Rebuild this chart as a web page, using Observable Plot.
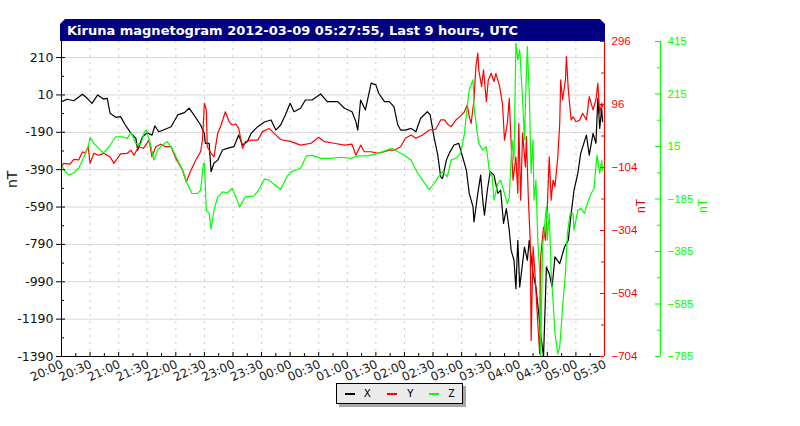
<!DOCTYPE html>
<html>
<head>
<meta charset="utf-8">
<script src="https://cdn.jsdelivr.net/npm/d3@7"></script>
<script src="https://cdn.jsdelivr.net/npm/@observablehq/plot@0.6"></script>
<style>
  html, body { margin: 0; padding: 0; background: #fff; }
  #wrap { position: relative; width: 800px; height: 426px; overflow: hidden; }
  #title {
    position: absolute; left: 60px; top: 19px; width: 545px; height: 22px;
    background: #000080; color: #fff; font: bold 13px "DejaVu Sans", sans-serif;
    line-height: 23px; padding-left: 7px; box-sizing: border-box; white-space: nowrap;
    clip-path: polygon(5px 0, calc(100% - 5px) 0, 100% 5px, 100% 100%, 0 100%, 0 5px);
  }
  #legend {
    position: absolute; left: 336px; top: 383px; width: 127px; height: 21px;
    background: #ebebeb; border: 1px solid #000; box-sizing: border-box;
    box-shadow: 3px 3px 0 #a8a8a8; font: 11px "DejaVu Sans Mono", monospace; color: #000;
  }
  #legend .sw { position: absolute; top: 9px; width: 10px; height: 2px; }
  #legend .lb { position: absolute; top: 3px; line-height: 13px; }
</style>
</head>
<body>
<div id="wrap">
  <div id="chart"></div>
  <div id="title"></div>
  <div id="legend"></div>
</div>
<script>
// ---- Data (minutes after 2012-03-08 20:00 UTC, value in nT) ----
const chartTitle = "Kiruna magnetogram 2012-03-09 05:27:55, Last 9 hours, UTC";
const seriesNames = ["X", "Y", "Z"];
const seriesColors = ["#000000", "#ff0000", "#00ff00"];

const xComponent = [[0,-26],[6,-13],[13,-21],[22,14],[27,-8],[32,-35],[38,10],[44,-12],[48,-8],[51,-88],[57,-110],[62,-106],[67,-151],[73,-196],[78,-221],[80,-285],[85,-214],[90,-192],[95,-205],[98,-156],[102,-187],[107,-178],[115,-160],[122,-97],[129,-85],[134,-61],[139,-97],[146,-151],[150,-196],[151,-249],[155,-249],[157,-401],[160,-356],[164,-339],[169,-285],[174,-276],[181,-267],[186,-205],[190,-258],[195,-240],[199,-196],[206,-160],[213,-135],[220,-124],[225,-178],[230,-151],[235,-97],[240,-35],[244,-80],[251,-61],[256,-17],[263,-17],[272,15],[279,-26],[290,-26],[297,-61],[305,-80],[309,-133],[311,-178],[314,-17],[319,-71],[325,73],[330,64],[333,19],[339,-26],[344,-26],[349,-53],[353,-151],[356,-178],[361,-178],[367,-169],[372,-187],[377,-115],[384,-80],[387,-97],[391,-214],[395,-312],[398,-428],[400,-437],[404,-339],[407,-303],[412,-258],[417,-249],[421,-321],[425,-392],[428,-517],[432,-589],[433,-670],[437,-517],[440,-419],[442,-544],[444,-634],[447,-500],[450,-401],[454,-419],[458,-517],[461,-500],[464,-678],[467,-598],[470,-714],[472,-822],[475,-875],[477,-1027],[479,-768],[481,-1018],[486,-804],[489,-875],[491,-768],[495,-947],[498,-1018],[501,-1161],[503,-1268],[506,-1390],[509,-911],[512,-947],[515,-1018],[518,-857],[523,-893],[528,-804],[532,-768],[535,-625],[538,-500],[542,-410],[545,-303],[551,-205],[554,-312],[558,-196],[561,-249],[563,-8],[565,-169],[567,-61],[568,-133]];

const yComponent = [[0,-107],[2,-91],[9,-93],[13,-78],[18,-80],[22,-54],[25,-59],[28,-38],[30,-91],[34,-59],[39,-65],[44,-59],[51,-70],[55,-91],[62,-61],[69,-59],[73,-49],[76,-65],[81,-38],[86,-43],[92,-17],[95,-70],[99,-38],[104,-30],[109,-38],[115,-38],[120,-75],[127,-112],[131,-150],[136,-112],[141,-80],[146,-54],[148,-17],[150,100],[152,79],[153,-38],[157,-59],[160,-70],[164,5],[167,26],[172,73],[176,41],[179,31],[183,34],[186,20],[190,-43],[193,-22],[199,-17],[206,-17],[211,10],[218,20],[223,5],[230,-15],[241,-22],[251,-33],[262,-27],[270,-8],[276,-22],[286,-27],[297,-33],[305,-30],[309,-65],[314,-33],[318,-54],[325,-54],[332,-59],[339,-54],[344,-49],[349,-49],[356,-38],[361,-11],[367,-1],[372,-11],[379,-1],[386,15],[393,18],[398,47],[402,47],[406,31],[409,26],[414,47],[419,60],[423,73],[426,95],[428,57],[430,36],[433,111],[435,216],[437,259],[438,206],[441,153],[443,206],[446,105],[448,174],[451,195],[454,169],[456,195],[460,153],[463,95],[465,-17],[468,36],[470,116],[472,-27],[474,-144],[477,-70],[479,-186],[480,36],[482,-208],[484,5],[487,-102],[488,-6],[490,-197],[492,-335],[493,-653],[495,-356],[497,-441],[500,-600],[502,-696],[503,-388],[506,-293],[508,-335],[510,-229],[512,-70],[514,-208],[516,-144],[518,-165],[521,-70],[523,36],[524,174],[526,111],[529,174],[530,248],[532,142],[535,47],[537,57],[540,41],[544,47],[547,68],[551,47],[554,121],[558,79],[561,111],[563,164],[565,68],[567,100],[568,89]];

const zComponent = [[0,-56],[4,-81],[8,-94],[13,-85],[18,-68],[23,-30],[28,14],[30,50],[34,27],[39,8],[44,-9],[50,14],[57,52],[64,52],[69,46],[73,68],[78,27],[83,21],[87,71],[89,78],[94,14],[97,-37],[101,2],[106,21],[111,33],[116,8],[122,-37],[127,-75],[132,-126],[137,-164],[143,-164],[146,-151],[149,-49],[150,-49],[152,-228],[155,-240],[157,-300],[160,-228],[164,-177],[169,-158],[174,-162],[179,-145],[183,-177],[187,-215],[193,-177],[202,-173],[207,-151],[213,-109],[218,-113],[223,-128],[230,-149],[237,-98],[241,-81],[251,-68],[257,-21],[263,-19],[272,-30],[283,-30],[293,-26],[304,-30],[311,-21],[321,-21],[332,-11],[342,2],[347,8],[353,-5],[360,-18],[367,-37],[374,-87],[379,-113],[386,-149],[391,-126],[396,-100],[400,-81],[405,-100],[409,-37],[414,-30],[419,-11],[423,65],[426,167],[428,231],[432,269],[433,167],[436,78],[438,27],[442,2],[446,14],[449,-75],[452,-100],[454,-189],[458,-126],[461,-113],[464,-151],[468,-202],[470,-177],[473,40],[475,-37],[477,409],[479,345],[481,383],[484,192],[486,40],[488,294],[489,396],[491,218],[493,-87],[495,40],[496,-189],[498,-113],[500,-342],[502,-469],[503,-785],[505,-368],[507,-291],[509,-215],[510,-342],[512,-240],[514,-469],[516,-571],[518,-698],[521,-775],[523,-750],[526,-597],[529,-469],[531,-317],[534,-240],[537,-240],[538,-304],[542,-228],[545,-221],[549,-240],[552,-202],[556,-164],[559,-145],[562,-18],[565,-87],[567,-37],[568,-75]];

// Axis ticks
const leftTicks = [210, 10, -190, -390, -590, -790, -990, -1190, -1390];
const leftMinorTicks = [110, -90, -290, -490, -690, -890, -1090, -1290];
const leftDomain = [-1390, 296];
const redTicks = [296, 96, -104, -304, -504, -704];
const redMinorTicks = [196, -4, -204, -404, -604];
const redDomain = [-704, 296];
const greenTicks = [415, 215, 15, -185, -385, -585, -785];
const greenMinorTicks = [315, 115, -85, -285, -485, -685];
const greenDomain = [-785, 415];
const timeStartUTC = Date.UTC(2012, 2, 8, 20, 0);
const timeSpanMinutes = 570;
const majorStepMinutes = 30;

// ---- Build ----
const toDate = m => new Date(timeStartUTC + m * 60000);
const lerpTo = (dom) => v => leftDomain[0] + (v - dom[0]) / (dom[1] - dom[0]) * (leftDomain[1] - leftDomain[0]);
const redToLeft = lerpTo(redDomain);
const greenToLeft = lerpTo(greenDomain);
const tx = d3.utcFormat("%H:%M");
const minus = v => String(v).replace("-", "\u2212");

const xData = xComponent.map(([m, v]) => ({t: toDate(m), v}));
const yData = yComponent.map(([m, v]) => ({t: toDate(m), v: redToLeft(v)}));
const zData = zComponent.map(([m, v]) => ({t: toDate(m), v: greenToLeft(v)}));

const majorTimes = d3.range(0, timeSpanMinutes + 1, majorStepMinutes).map(toDate);
const minorTimes = d3.range(majorStepMinutes / 2, timeSpanMinutes, majorStepMinutes).map(toDate);
const x0 = toDate(0), x1 = toDate(timeSpanMinutes);
const yBottom = leftDomain[0];

const red = seriesColors[1], green = seriesColors[2];

const chart = Plot.plot({
  width: 800, height: 426,
  marginLeft: 61, marginRight: 196, marginTop: 41, marginBottom: 70,
  x: {type: "utc", domain: [x0, x1], axis: null},
  y: {domain: leftDomain, axis: null},
  style: {fontFamily: "DejaVu Sans, sans-serif", fontSize: "12px", background: "#fff", color: "#111"},
  marks: [
    // grid
    Plot.ruleY(leftTicks.slice(0, -1), {stroke: "#d6d6d6", strokeWidth: 1}),
    Plot.ruleX(majorTimes.slice(1, -1), {stroke: "#c8c8c8", strokeDasharray: "2,5", strokeWidth: 1}),
    // series
    Plot.line(xData, {x: "t", y: "v", stroke: seriesColors[0], strokeWidth: 1.2}),
    Plot.line(yData, {x: "t", y: "v", stroke: red, strokeWidth: 1.2}),
    Plot.line(zData, {x: "t", y: "v", stroke: green, strokeWidth: 1.2}),
    // left axis
    Plot.ruleX([x0], {stroke: "#000"}),
    Plot.ruleY(leftTicks, {x1: () => x0, x2: () => x0, insetLeft: -5, insetRight: -4, stroke: "#000"}),
    Plot.ruleY(leftMinorTicks, {x1: () => x0, x2: () => x0, insetRight: -3, stroke: "#000"}),
    Plot.text(leftTicks, {x: () => x0, y: d => d, text: d => String(d), textAnchor: "end", dx: -8, fontSize: 12.5, fill: "#111"}),
    Plot.text(["nT"], {frameAnchor: "left", dx: -49, dy: -11, rotate: -90, fontSize: 14, fill: "#111"}),
    // bottom axis
    Plot.ruleY([yBottom], {stroke: "#000"}),
    Plot.ruleX(majorTimes, {y1: () => yBottom, y2: () => yBottom, insetTop: -4, stroke: "#000"}),
    Plot.ruleX(minorTimes, {y1: () => yBottom, y2: () => yBottom, insetTop: -3, stroke: "#000"}),
    Plot.text(majorTimes, {x: d => d, y: () => yBottom, text: d => tx(d), rotate: -25, textAnchor: "end", dx: 1, dy: 7, fontSize: 12, fill: "#222"}),
    // red axis
    Plot.ruleX([x1], {stroke: red, strokeWidth: 1.2}),
    Plot.ruleY(redTicks, {y: d => redToLeft(d), x1: () => x1, x2: () => x1, insetLeft: -4, stroke: red}),
    Plot.ruleY(redMinorTicks, {y: d => redToLeft(d), x1: () => x1, x2: () => x1, insetLeft: -3, stroke: red}),
    Plot.text(redTicks, {y: d => redToLeft(d), x: () => x1, text: d => minus(d), textAnchor: "start", dx: 7, fill: red, fontFamily: "Liberation Sans, sans-serif", fontSize: 11.5}),
    Plot.text(["nT"], {frameAnchor: "right", dx: 37, rotate: -90, fill: red, fontFamily: "Liberation Sans, sans-serif", fontSize: 12}),
    // green axis
    Plot.ruleX([x1], {dx: 56, stroke: green, strokeWidth: 1.2}),
    Plot.ruleY(greenTicks, {y: d => greenToLeft(d), x1: () => x1, x2: () => x1, insetLeft: -5, dx: 56, stroke: green}),
    Plot.ruleY(greenMinorTicks, {y: d => greenToLeft(d), x1: () => x1, x2: () => x1, insetLeft: -3, dx: 56, stroke: green}),
    Plot.text(greenTicks, {y: d => greenToLeft(d), x: () => x1, text: d => minus(d), textAnchor: "start", dx: 63, fill: green, fontFamily: "Liberation Sans, sans-serif", fontSize: 11.5}),
    Plot.text(["nT"], {frameAnchor: "right", dx: 99, rotate: -90, fill: green, fontFamily: "Liberation Sans, sans-serif", fontSize: 12})
  ]
});
document.getElementById("chart").appendChild(chart);

document.getElementById("title").textContent = chartTitle;
const legend = document.getElementById("legend");
const swX = [8, 50, 92], lbX = [27, 70, 111];
seriesNames.forEach((name, i) => {
  const sw = document.createElement("div");
  sw.className = "sw"; sw.style.left = swX[i] + "px"; sw.style.background = seriesColors[i];
  const lb = document.createElement("div");
  lb.className = "lb"; lb.style.left = lbX[i] + "px"; lb.textContent = name;
  legend.appendChild(sw); legend.appendChild(lb);
});
</script>
</body>
</html>
